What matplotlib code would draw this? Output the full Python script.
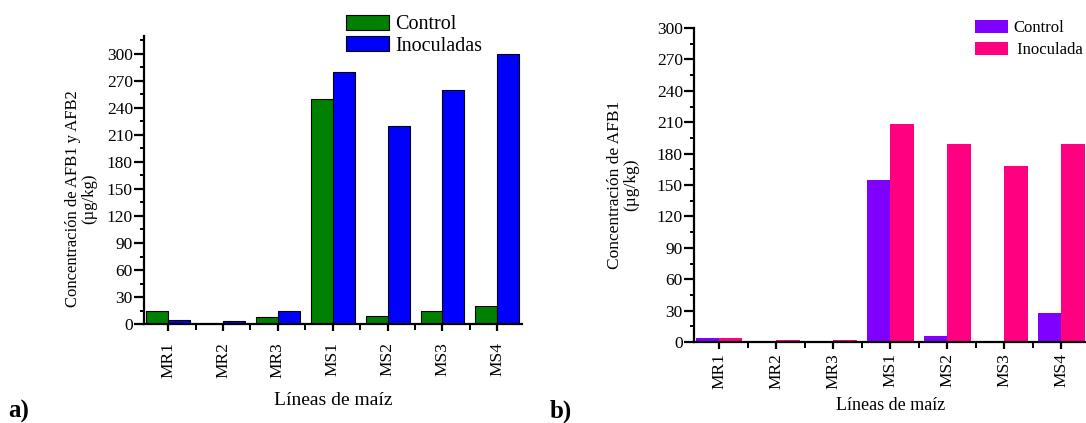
import numpy as np
import matplotlib
matplotlib.use("Agg")
from matplotlib import pyplot as plt
from matplotlib.ticker import MultipleLocator, FixedLocator

plt.rcParams["font.family"] = ["Liberation Serif", "DejaVu Serif"]

lines = ["MR1", "MR2", "MR3", "MS1", "MS2", "MS3", "MS4"]

# panel a) AFB1 + AFB2
a_control = [15, 0, 8, 250, 9, 15, 20]
a_inoc = [4, 3, 15, 280, 220, 260, 300]

# panel b) AFB1
b_control = [4, 0, 1, 155, 6, 1, 28]
b_inoc = [4, 2, 2, 208, 189, 168, 189]

W, H = 1086, 423
fig = plt.figure(figsize=(W / 100, H / 100), dpi=100)


def box(x0, y_top, x1, y_bot):
    # pixel box -> figure fraction
    return [x0 / W, (H - y_bot) / H, (x1 - x0) / W, (y_bot - y_top) / H]


def style_axes(ax, ylim, pad_x):
    x = np.arange(len(lines))
    for side in ("top", "right"):
        ax.spines[side].set_visible(False)
    for side in ("left", "bottom"):
        ax.spines[side].set_linewidth(1.6)
    ax.set_xlim(-0.44, 6.45)
    ax.set_ylim(*ylim)
    ax.set_xticks(x)
    ax.set_xticklabels(lines, rotation=90, fontsize=12.5)
    ax.xaxis.set_minor_locator(FixedLocator(x[:-1] + 0.5))
    ax.yaxis.set_major_locator(MultipleLocator(30))
    ax.yaxis.set_minor_locator(MultipleLocator(15))
    ax.tick_params(axis="both", which="major", direction="out", length=5, width=1.6, labelsize=12.5)
    ax.tick_params(axis="both", which="minor", direction="out", length=3, width=1.4)
    ax.tick_params(axis="y", which="major", length=7, pad=1)
    ax.tick_params(axis="x", which="major", pad=pad_x)
    ax.tick_params(axis="x", which="minor", length=4)


x = np.arange(len(lines))

# ---- a)
ax1 = fig.add_axes(box(144, 36, 522, 324))
ax1.bar(x - 0.2, a_control, 0.4, color="#008000", edgecolor="black", linewidth=0.8, label="Control")
ax1.bar(x + 0.2, a_inoc, 0.4, color="#0000FF", edgecolor="black", linewidth=0.8, label="Inoculadas")
style_axes(ax1, (0, 320), 8)
ax1.set_yticks(np.arange(0, 301, 30))
ax1.set_xlabel("Líneas de maíz", fontsize=14, labelpad=10)
ax1.set_ylabel("Concentración de AFB1 y AFB2\n(µg/kg)", fontsize=12, linespacing=1.0)
ax1.yaxis.set_label_coords(-0.125, 0.435)
ax1.legend(loc="upper left", bbox_to_anchor=(346 / W, 1 - 15 / H), bbox_transform=fig.transFigure,
           frameon=False, fontsize=14.5, handlelength=2.15, handleheight=0.75,
           handletextpad=0.3, labelspacing=0.1, borderpad=0, borderaxespad=0)

# ---- b)
ax2 = fig.add_axes(box(694, 28, 1087, 342))
ax2.bar(x - 0.205, b_control, 0.41, color="#8000FF", label="Control")
ax2.bar(x + 0.205, b_inoc, 0.41, color="#FF0080", label=" Inoculada")
style_axes(ax2, (0, 300), 3)
ax2.set_xlabel("Líneas de maíz", fontsize=13, labelpad=6)
ax2.set_ylabel("Concentración de AFB1\n(µg/kg)", fontsize=12.5, linespacing=1.0)
ax2.yaxis.set_label_coords(-0.14, 0.5)
ax2.legend(loc="upper left", bbox_to_anchor=(975 / W, 1 - 20 / H), bbox_transform=fig.transFigure,
           frameon=False, fontsize=12, handlelength=2.0, handleheight=0.8,
           handletextpad=0.3, labelspacing=0.35, borderpad=0, borderaxespad=0)

fig.text(8 / W, 0, "a)", fontsize=18, fontweight="bold", ha="left", va="bottom")
fig.text(550 / W, 0, "b)", fontsize=18, fontweight="bold", ha="left", va="bottom")

fig.savefig("out.png", dpi=100)
